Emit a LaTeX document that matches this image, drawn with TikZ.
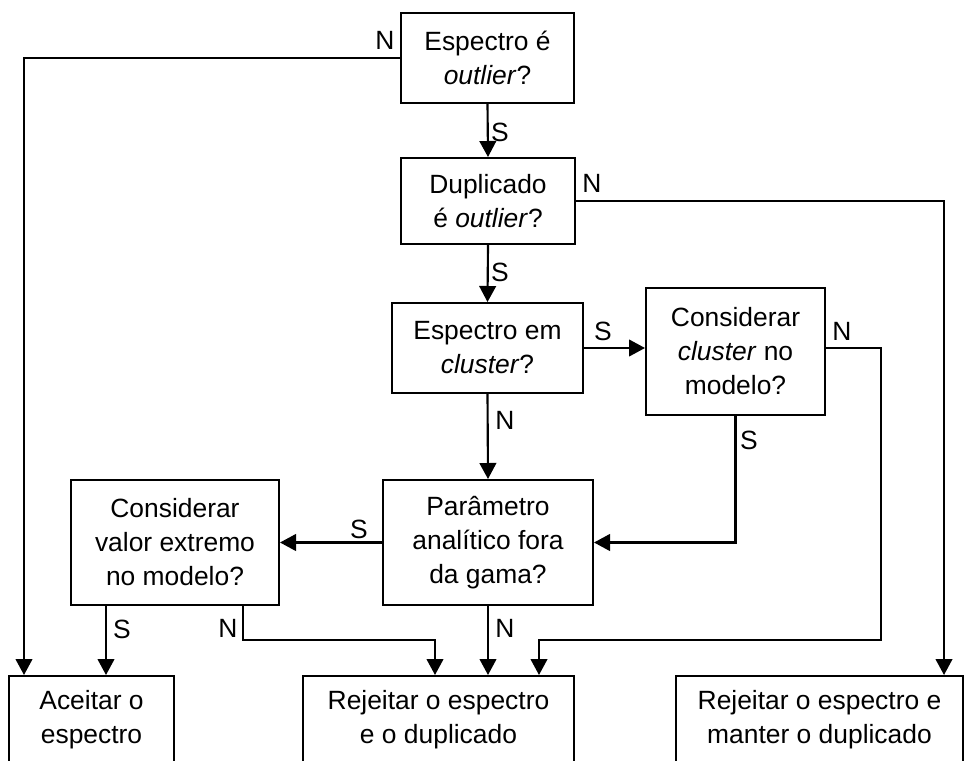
\documentclass[tikz,border=0pt]{standalone}
\usepackage{fontspec}
\setmainfont{Liberation Sans}
\usepackage{tikz}
\usetikzlibrary{positioning,arrows.meta,calc}
\newcommand{\txt}{\fontsize{19.8}{25.5}\selectfont}
\tikzset{
  caixa/.style={draw,line width=1.5pt,align=center,inner sep=2pt,font=\txt},
  seta/.style={-{Triangle[length=12pt,width=12.5pt]},line width=1.6pt},
  rotulo/.style={font=\txt,inner sep=0pt},
}

\begin{document}
\begin{tikzpicture}[x=0.75pt,y=-0.75pt]
  \useasboundingbox (0,0) rectangle (966,760);
  % decisoes
  \node[caixa,minimum width=129.75pt,minimum height=67.5pt] (espOut) at (487.5,58)
    {Espectro é\\\textit{outlier}?};
  \node[caixa,minimum width=130.5pt,minimum height=64.5pt] (dupOut) at (488,201)
    {Duplicado\\é \textit{outlier}?};
  \node[caixa,minimum width=143.25pt,minimum height=67.5pt] (espClu) at (487.5,348)
    {Espectro em\\\textit{cluster}?};
  \node[caixa,minimum width=134.25pt,minimum height=95.25pt] (consClu) at (735.5,351.5)
    {Considerar\\\textit{cluster} no\\modelo?};
  \node[caixa,minimum width=157.5pt,minimum height=93.75pt] (param) at (488,542.5)
    {Parâmetro\\analítico fora\\da gama?};
  \node[caixa,minimum width=156pt,minimum height=93.75pt] (consExt) at (175,542.5)
    {Considerar\\valor extremo\\no modelo?};
  % resultados
  \node[caixa,minimum width=123.75pt,minimum height=65.25pt] (aceitar) at (91.5,719.5)
    {Aceitar o\\espectro};
  \node[caixa,minimum width=203.25pt,minimum height=65.25pt] (rejAmbos) at (438.5,719.5)
    {Rejeitar o espectro\\e o duplicado};
  \node[caixa,minimum width=215.25pt,minimum height=65.25pt] (rejManter) at (819.5,719.5)
    {Rejeitar o espectro e\\manter o duplicado};
  % pontos de passagem
  \coordinate (xAce) at (24,0);
  \coordinate (xMan) at (944,0);
  \coordinate (xExtS) at (106,0);
  \coordinate (xExtN) at (243,0);
  \coordinate (xRejA) at (435,0);
  \coordinate (xRejC) at (539,0);
  \coordinate (xCluN) at (881,0);
  \coordinate (yJunta) at (0,640);
  % ligacoes
  \draw[seta] (espOut.west) -| (xAce |- aceitar.north);
  \draw[seta] (espOut.south) -- (dupOut.north);
  \draw[seta] (dupOut.east) -| (xMan |- rejManter.north);
  \draw[seta] (dupOut.south) -- (espClu.north);
  \draw[seta] (espClu.east) -- (espClu.east -| consClu.west);
  \draw[seta] (espClu.south) -- (param.north);
  \draw[seta] (espClu.east -| consClu.east) -| (xCluN |- yJunta) -| (xRejC |- rejAmbos.north);
  \draw[seta] (consClu.south) |- (param.east);
  \draw[seta] (param.west) -- (consExt.east);
  \draw[seta] (param.south) -- (param.south |- rejAmbos.north);
  \draw[seta] (xExtS |- consExt.south) -- (xExtS |- aceitar.north);
  \draw[seta] (xExtN |- consExt.south) -- (xExtN |- yJunta) -| (xRejA |- rejAmbos.north);
  % rotulos
  \node[rotulo] (lN1) at (385,40) {N};
  \node[rotulo] (lS1) at (500,132) {S};
  \node[rotulo] (lN2) at (592,183) {N};
  \node[rotulo] (lS2) at (500,272) {S};
  \node[rotulo] (lS3) at (603,331) {S};
  \node[rotulo] (lN4) at (842,331) {N};
  \node[rotulo] (lN3) at (505,420) {N};
  \node[rotulo] (lS4) at (749,440) {S};
  \node[rotulo] (lS5) at (359,529) {S};
  \node[rotulo] (lS6) at (122,629) {S};
  \node[rotulo] (lN6) at (228,628) {N};
  \node[rotulo] (lN5) at (505,628) {N};
\end{tikzpicture}
\end{document}
